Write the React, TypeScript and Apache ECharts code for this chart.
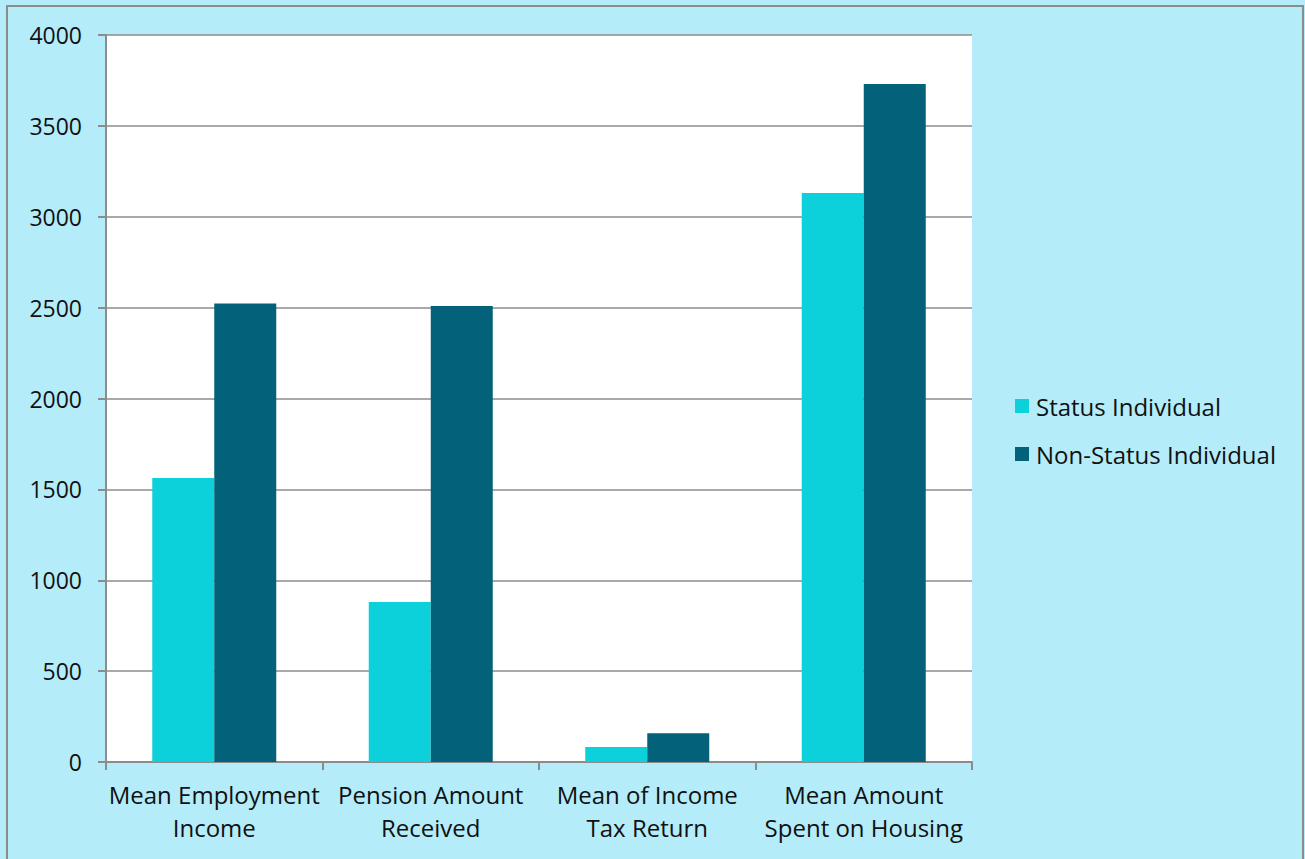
import React, { useEffect, useRef } from "react";
import * as echarts from "echarts";

const categories = [
  "Mean Employment\nIncome",
  "Pension Amount\nReceived",
  "Mean of Income\nTax Return",
  "Mean Amount\nSpent on Housing",
];
const statusValues = [1562, 880, 82, 3131];
const nonStatusValues = [2523, 2509, 158, 3730];
const yTicks = { min: 0, max: 4000, interval: 500 };
const FONT = "Open Sans";

export default function App() {
  const ref = useRef<HTMLDivElement>(null);
  useEffect(() => {
    const chart = echarts.init(ref.current!, null, { renderer: "svg" });
    chart.setOption({
      animation: false,
      backgroundColor: "#b4ecfa",
      textStyle: { fontFamily: FONT },
      graphic: [
        {
          type: "rect",
          shape: { x: 7, y: 6, width: 1296, height: 870 },
          style: { fill: "none", stroke: "#8c8c8c", lineWidth: 2 },
          silent: true,
        },
      ],
      grid: { left: 106, top: 35, width: 866, height: 727, backgroundColor: "#ffffff", show: true, borderWidth: 0 },
      legend: {
        orient: "vertical",
        left: 1010,
        top: 389,
        itemWidth: 14,
        itemHeight: 14,
        itemGap: 24,
        itemStyle: { borderWidth: 0 },
        icon: "rect",
        textStyle: { fontFamily: FONT, fontSize: 24, color: "#111", padding: [0, 0, 0, 2] },
        data: ["Status Individual", "Non-Status Individual"],
      },
      xAxis: {
        type: "category",
        data: categories,
        axisLine: { lineStyle: { color: "#8c8c8c", width: 2 } },
        axisTick: { show: true, length: 8, lineStyle: { color: "#8c8c8c", width: 2 } },
        axisLabel: { fontFamily: FONT, fontSize: 24, color: "#111", lineHeight: 33, margin: 16, interval: 0 },
      },
      yAxis: {
        type: "value",
        min: yTicks.min,
        max: yTicks.max,
        interval: yTicks.interval,
        axisLine: { show: true, lineStyle: { color: "#8c8c8c", width: 2 } },
        axisTick: { show: true, length: 8, lineStyle: { color: "#8c8c8c", width: 2 } },
        splitLine: { lineStyle: { color: "#8c8c8c", width: 1.5 } },
        axisLabel: { fontFamily: FONT, fontSize: 23, color: "#111", margin: 24, formatter: (v: number) => String(v) },
      },
      series: [
        {
          name: "Status Individual",
          type: "bar",
          data: statusValues,
          barWidth: 62,
          barGap: "0%",
          itemStyle: { color: "#0dd1da" },
        },
        {
          name: "Non-Status Individual",
          type: "bar",
          data: nonStatusValues,
          barWidth: 62,
          barGap: "0%",
          itemStyle: { color: "#03627a" },
        },
      ],
    });
    return () => chart.dispose();
  }, []);
  return (
    <div
      ref={ref}
      style={{ position: "absolute", left: 0, top: 0, width: 1305, height: 859 }}
    />
  );
}
